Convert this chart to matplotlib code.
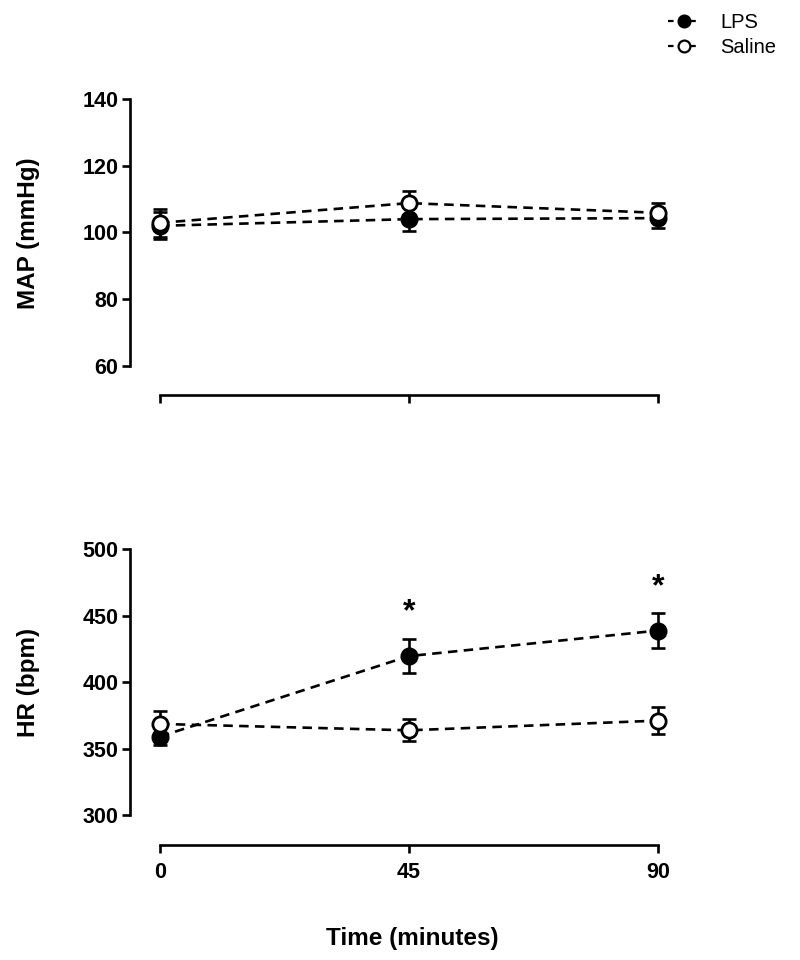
import matplotlib
matplotlib.use("Agg")
import matplotlib.pyplot as plt
from matplotlib.lines import Line2D

plt.rcParams['font.family'] = ['Liberation Sans', 'DejaVu Sans']

time = [0, 45, 90]
xtick_labels = ["0", "45", "90"]

map_lps = [102.0, 104.0, 104.3]
map_lps_sem = [4.0, 3.5, 2.9]
map_sal = [102.9, 108.8, 105.9]
map_sal_sem = [4.2, 3.6, 2.9]

hr_lps = [359.0, 419.5, 438.7]
hr_lps_sem = [6.5, 13.0, 13.0]
hr_sal = [368.5, 363.7, 371.0]
hr_sal_sem = [9.5, 8.3, 10.0]

sig_times = [45, 90]
sig_y = [452.5, 471.0]

fig = plt.figure(figsize=(8, 9.6), dpi=100)

LW = 1.9
DASH = (3.6, 2.4)
TICK_FS = 15.5
LABEL_FS = 17.5


def panel(ax, lps, lps_e, sal, sal_e):
    for y, e, fc, z in [(lps, lps_e, 'black', 3), (sal, sal_e, 'white', 4)]:
        ax.errorbar(time, y, yerr=e, fmt='none', ecolor='black', elinewidth=LW,
                    capsize=5.3, capthick=LW, zorder=z, clip_on=False)
        ax.plot(time, y, color='black', lw=LW, dashes=DASH, marker='o',
                markersize=11, markerfacecolor=fc, markeredgecolor='black',
                markeredgewidth=2.0, zorder=z + 0.5, clip_on=False)
    ax.spines['top'].set_visible(False)
    ax.spines['right'].set_visible(False)
    ax.spines['left'].set_linewidth(LW)
    ax.spines['bottom'].set_linewidth(LW)
    ax.spines['bottom'].set_bounds(0, 90)
    ax.set_xlim(-5.42, 90)
    ax.set_xticks(time)
    ax.tick_params(axis='both', direction='out', length=6, width=LW,
                   labelsize=TICK_FS, pad=2.5)


# Top panel: MAP
ax1 = fig.add_axes([130 / 800, 1 - 395 / 960, (658 - 130) / 800, (395 - 99) / 960])
panel(ax1, map_lps, map_lps_sem, map_sal, map_sal_sem)
ax1.set_ylim(51.3, 140)
ax1.spines['left'].set_bounds(60, 140)
ax1.set_yticks([60, 80, 100, 120, 140])
ax1.set_xticklabels([])
for lab in ax1.get_yticklabels():
    lab.set_fontweight('bold')

# Bottom panel: HR
ax2 = fig.add_axes([130 / 800, 1 - 845 / 960, (658 - 130) / 800, (845 - 549) / 960])
panel(ax2, hr_lps, hr_lps_sem, hr_sal, hr_sal_sem)
ax2.set_ylim(277.5, 500)
ax2.spines['left'].set_bounds(300, 500)
ax2.set_yticks([300, 350, 400, 450, 500])
ax2.set_xticklabels(xtick_labels)
ax2.tick_params(axis='x', pad=6)
for lab in ax2.get_yticklabels() + ax2.get_xticklabels():
    lab.set_fontweight('bold')

for t, y in zip(sig_times, sig_y):
    ax2.text(t, y, '*', ha='center', va='center', fontsize=23, fontweight='bold',
             clip_on=False)

fig.text(28 / 800, 1 - 233 / 960, 'MAP (mmHg)', rotation=90, ha='center',
         va='center', fontsize=LABEL_FS, fontweight='bold')
fig.text(28 / 800, 1 - 682 / 960, 'HR (bpm)', rotation=90, ha='center',
         va='center', fontsize=LABEL_FS, fontweight='bold')
fig.text(412 / 800, 1 - 938 / 960, 'Time (minutes)', ha='center', va='center',
         fontsize=LABEL_FS, fontweight='bold')

handles = [
    Line2D([], [], color='black', lw=1.6, dashes=(2.5, 2.5), marker='o', markersize=8.5,
           markerfacecolor='black', markeredgecolor='black', markeredgewidth=1.6),
    Line2D([], [], color='black', lw=1.6, dashes=(2.5, 2.5), marker='o', markersize=8.5,
           markerfacecolor='white', markeredgecolor='black', markeredgewidth=1.6),
]
fig.legend(handles, ['LPS', 'Saline'], loc='center left',
           bbox_to_anchor=(650 / 800, 1 - 35 / 960), frameon=False, fontsize=14.5,
           handlelength=1.6, handletextpad=1.0, labelspacing=0.3)

fig.savefig('out.png', dpi=100)
